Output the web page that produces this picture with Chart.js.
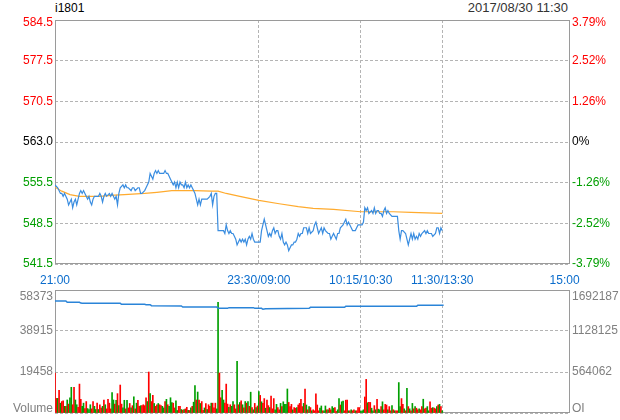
<!DOCTYPE html>
<html>
<head>
<meta charset="utf-8">
<script src="https://cdn.jsdelivr.net/npm/chart.js@4.4.1/dist/chart.umd.min.js"></script>
<style>
  body { margin: 0; background: #fff; }
  #wrap { position: relative; width: 620px; height: 420px; overflow: hidden; font-family: "Liberation Sans", Arial, sans-serif; }
  #priceBox { position: absolute; left: 0; top: 0; }
  #volBox { position: absolute; left: 0; top: 280px; }
  .head { position: absolute; top: 1px; font-size: 12px; line-height: 14px; color: #000; white-space: nowrap; }
</style>
</head>
<body>
<div id="wrap">
  <div class="head" id="code" style="left:55px;"></div>
  <div class="head" id="stamp" style="right:52px;color:#333;font-size:13px;"></div>
  <div id="priceBox"><canvas id="priceChart" width="620" height="290"></canvas></div>
  <div id="volBox"><canvas id="volChart" width="620" height="140"></canvas></div>
</div>
<script>
// 基本信息
const contractCode = 'i1801';
const stampText = '2017/08/30 11:30';
const prevClose = 563.0;
const maxPct = 3.79;
const xMax = 379;

// 时间轴（分钟，从21:00起算，去掉休市时段）
const timeTickMinutes = [0, 150, 225, 285, 375];
const timeTickLabels = ['21:00', '23:30/09:00', '10:15/10:30', '11:30/13:30', '15:00'];
const priceTickLabels = ['541.5', '548.5', '555.5', '563.0', '570.5', '577.5', '584.5'];
const pctTickLabels = ['-3.79%', '-2.52%', '-1.26%', '0%', '1.26%', '2.52%', '3.79%'];

// 分时价格
const priceMinutes = [
  0, 2, 4, 5, 6, 7, 9, 10, 12, 13, 14, 15, 16, 18, 19, 20, 21, 22, 23, 24, 25, 26, 27, 28, 29,
  31, 32, 33, 34, 35, 36, 37, 38, 40, 41, 42, 43, 44, 45, 46, 47, 48, 50, 51, 52, 53, 54, 56, 57,
  58, 59, 61, 62, 63, 64, 66, 67, 69, 70, 71, 72, 73, 74, 75, 76, 77, 78, 79, 80, 81, 82, 83, 84,
  85, 86, 87, 88, 89, 90, 91, 92, 93, 94, 95, 96, 97, 98, 99, 100, 101, 102, 103, 104, 105, 106,
  107, 108, 110, 112, 114, 115, 116, 117, 118, 119, 120, 121, 123, 124, 125, 126, 127, 128, 129,
  130, 131, 132, 133, 134, 135, 136, 137, 138, 139, 140, 141, 142, 143, 144, 145, 146, 147, 148,
  149, 150, 151, 152, 153, 154, 155, 156, 157, 158, 159, 160, 161, 162, 163, 164, 165, 166, 167,
  168, 169, 170, 171, 172, 173, 174, 175, 176, 177, 178, 179, 180, 181, 182, 183, 185, 186, 187,
  188, 190, 191, 192, 193, 194, 196, 197, 198, 199, 201, 202, 203, 204, 205, 207, 208, 209, 210,
  212, 213, 214, 215, 216, 217, 218, 219, 221, 222, 223, 224, 226, 227, 228, 229, 230, 231, 233,
  234, 235, 236, 237, 238, 239, 240, 241, 242, 243, 244, 245, 246, 248, 249, 251, 252, 253, 254,
  255, 256, 258, 259, 260, 261, 262, 263, 264, 265, 266, 267, 268, 269, 270, 272, 273, 274, 275,
  277, 278, 280, 281, 282, 283, 284, 285
];
const priceValues = [
  555.5, 555, 554, 554, 553.5, 554, 553, 552, 553, 551.5, 552.5, 553, 552, 554, 554.5, 554, 554.5, 554, 553.5, 553, 553.5, 552.5, 552, 553, 553.5,
  553.5, 553.5, 554, 553.5, 552.5, 553.5, 554, 553.5, 554, 553.5, 554, 553.5, 553, 553.5, 552, 554, 555, 555.5, 555, 555.5, 555, 555, 554.5, 555,
  555, 554.5, 555, 555, 554, 554, 554.5, 555, 556, 557.5, 557, 556.5, 557.5, 558, 557.5, 558, 557.5, 557.5, 557.5, 557.5, 558, 557.5, 557.5, 557,
  556.5, 556, 555.5, 556, 555, 556, 555, 556, 555.5, 555.5, 555, 556, 555, 555.5, 555, 555.5, 555, 554.5, 554, 553, 552, 553,
  552, 553, 553, 553, 553.5, 554, 552, 553.5, 554, 554, 547.5, 547.5, 547.5, 547.5, 547, 548.5, 547.5, 547, 547.5,
  547, 547, 546.5, 546, 545, 545.5, 546, 545.5, 546, 545.5, 546, 545, 546, 546.5, 546, 547, 546, 545.5, 545.5,
  545.5, 545.5, 545.5, 547.5, 548.5, 549.5, 548.5, 547.5, 546.5, 547, 546.5, 547.5, 548, 547, 547.5, 547.5, 546.5, 546, 547,
  545.5, 545, 545.5, 545, 544, 544.5, 545, 545, 545.5, 545.5, 546, 547, 546.5, 547, 547, 548, 548, 547, 548,
  547, 547.5, 548.5, 549, 548, 547, 548, 547, 548, 547.5, 547, 547, 546, 546.5, 547, 546, 547, 547, 548,
  548.5, 549, 549.5, 548.5, 549, 548.5, 548, 547.5, 547.5, 548, 548.5, 548.5, 548.5, 549, 551.5, 551, 551.5, 550.5, 551,
  550.5, 551.5, 550.5, 551, 551, 550.5, 550.5, 550, 551, 551.5, 550.5, 551, 550.5, 550, 550, 550, 550, 547.5, 546,
  547.5, 547.5, 547, 546, 545, 546, 547, 546, 547, 546, 546.5, 546, 547, 546.5, 547, 547.5, 547, 547.5, 547,
  547, 546.5, 547, 548, 548, 547, 548, 547.5
];

// 均价线
const avgMinutes = [0, 5, 11, 18, 33, 44, 51, 66, 75, 86, 103, 115, 120, 126, 136, 150, 165, 179, 190, 205, 225, 249, 262, 285];
const avgValues = [555.1, 554.4, 553.8, 553.5, 553.5, 553.7, 553.8, 554.0, 554.2, 554.5, 554.5, 554.4, 554.4, 554.0, 553.5, 552.8, 552.2, 551.7, 551.4, 551.2, 550.8, 550.8, 550.7, 550.5];

// 成交量与持仓量
const volMax = 58373;
const oiMax = 1692187;
const volTickLabels = ['Volume', '19458', '38915', '58373'];
const oiTickLabels = ['OI', '564062', '1128125', '1692187'];
const volumes = [
  19000, 6940, 6940, 10700, 4670, 5430, 5730, 3170, 3170, 6180, 4220, 7240,
  12200, 3920, 12200, 6180, 3920, 2710, 13720, 6480, 3170, 4670, 2110, 5430,
  2110, 1660, 3920, 1960, 5430, 3170, 1660, 4670, 1660, 3920, 2410, 3170,
  6180, 3920, 1960, 6480, 4670, 1960, 9650, 6180, 4220, 6030, 9200, 3470,
  13270, 4220, 2410, 6030, 1960, 6030, 2410, 4520, 2410, 3470, 7690, 1960,
  4670, 6030, 3170, 3470, 3470, 3920, 3470, 7240, 5430, 19450, 9200, 5430,
  8440, 4520, 3170, 3920, 4520, 3920, 3470, 3170, 2410, 5430, 6480, 3920,
  3170, 7240, 4980, 4670, 2410, 5730, 1210, 3170, 3170, 1660, 1360, 1660,
  1960, 2710, 1210, 1210, 2410, 3170, 5130, 12970, 6180, 9950, 6180, 4520,
  5430, 1210, 2410, 4520, 1660, 3920, 3170, 4670, 4670, 2410, 4670, 1960,
  52500, 19000, 7240, 10700, 6180, 4670, 13720, 4220, 2710, 3920, 3170, 5430,
  3920, 1960, 24580, 3920, 4980, 5730, 3920, 2410, 5430, 4670, 5430, 3170,
  9880, 2580, 1520, 4560, 2580, 3340, 10180, 8360, 5320, 4560, 6840, 2280,
  6080, 3500, 2580, 8060, 1980, 6840, 1520, 4100, 2580, 1520, 4560, 3040,
  5320, 4100, 4100, 11400, 5020, 3040, 4100, 1520, 2580, 2280, 2580, 3800,
  4560, 6540, 3040, 4560, 11400, 3800, 1520, 3040, 2580, 1060, 1520, 1060,
  9120, 3800, 1060, 2280, 3340, 1060, 1060, 3340, 1520, 1520, 2280, 1520,
  3040, 2280, 2580, 760, 1520, 6840, 3800, 5320, 5620, 1060, 6080, 6080,
  1060, 1060, 1520, 1060, 1520, 1060, 1060, 2580, 2580, 760, 1060, 1520,
  7600, 15960, 4860, 5020, 5020, 2280, 1060, 3500, 1520, 6540, 1820, 1520,
  3040, 5320, 1520, 4100, 3800, 1520, 3040, 1060, 3500, 1520, 1060, 1060,
  1060, 14440, 3040, 6840, 4100, 1980, 1060, 11700, 3040, 1980, 1060, 4560,
  1980, 3040, 2280, 1520, 1980, 1520, 3040, 6540, 1980, 2280, 3040, 1060,
  5320, 2280, 2580, 2280, 1980, 3040, 3800, 4100, 3040, 1060
];
const volSides = [
  'r','r','g','r','g','r','r','g','r','g','r','g',
  'g','r','r','g','g','r','r','r','g','g','r','r',
  'g','g','g','r','r','g','g','r','g','r','r','g',
  'r','g','r','r','r','r','g','g','r','g','r','g',
  'r','r','g','g','r','g','r','r','g','r','g','r',
  'g','r','r','g','r','r','r','r','g','r','g','r',
  'r','g','r','r','g','r','r','g','g','r','g','r',
  'g','g','g','r','r','g','g','r','r','g','r','g',
  'r','r','g','r','g','r','g','g','r','g','r','g',
  'r','r','g','r','g','r','r','g','r','r','r','g',
  'g','r','r','g','g','r','r','r','g','r','g','g',
  'r','r','g','r','g','r','g','r','g','r','g','r',
  'g','r','g','r','g','r','g','r','g','r','r','g',
  'r','r','g','r','r','r','g','g','r','r','g','r',
  'g','g','g','g','r','r','r','g','r','r','g','r',
  'r','r','r','g','r','g','r','g','r','g','r','r',
  'r','r','r','g','g','r','g','g','r','g','r','r',
  'g','g','r','r','g','g','r','g','g','r','r','r',
  'g','r','g','r','r','g','r','r','r','g','g','g',
  'r','r','g','r','r','g','g','r','g','r','g','g',
  'r','g','r','r','r','g','r','r','g','r','g','r',
  'r','g','g','r','r','g','r','g','r','g','r','g',
  'r','g','r','r','g','r','r','g','r','r','g','g',
  'r','r','g','r','r','g','r','g','r','g'
];
const oiMinutes = [0, 8, 9, 18, 19, 20, 48, 49, 66, 67, 70, 71, 93, 94, 119, 120, 127, 128, 146, 147, 152, 153, 155, 187, 188, 213, 214, 266, 267, 286];
const oiValues = [1541000, 1541000, 1523000, 1523000, 1512000, 1509000, 1509000, 1495000, 1495000, 1490000, 1490000, 1476000, 1472000, 1458000, 1458000, 1440000, 1440000, 1449000, 1449000, 1440000, 1440000, 1427000, 1435000, 1440000, 1454000, 1454000, 1467000, 1467000, 1481000, 1484000];

// 颜色
const upColor = '#ff0000';
const downColor = '#009f00';
const gridColor = '#b4b4b4';
const fontFamily = '"Liberation Sans", Arial, sans-serif';

document.getElementById('code').textContent = contractCode;
document.getElementById('stamp').textContent = stampText;

// 画外框
const framePlugin = {
    id: 'frame',
    beforeDatasetsDraw(chart) {
        const { ctx, chartArea: a } = chart;
        ctx.save();
        ctx.strokeStyle = '#9a9a9a';
        ctx.lineWidth = 1;
        ctx.strokeRect(Math.round(a.left) + 0.5, Math.round(a.top) + 0.5,
            Math.round(a.right - a.left) - 1, Math.round(a.bottom - a.top) - 1);
        ctx.restore();
    }
};

function timeAxis(showLabels) {
    return {
        type: 'linear',
        min: 0,
        max: xMax,
        offset: false,
        afterBuildTicks: (s) => { s.ticks = timeTickMinutes.map(v => ({ value: v })); },
        afterFit: (s) => { s.height = showLabels ? 26 : 0; },
        grid: {
            offset: false,
            drawTicks: false,
            color: (c) => (c.tick && (c.tick.value === 0 || c.tick.value === 375)) ? 'rgba(0,0,0,0)' : gridColor
        },
        border: { display: false, dash: [3, 2] },
        ticks: {
            display: showLabels,
            autoSkip: false,
            maxRotation: 0,
            padding: 9,
            color: '#0a6ccc',
            font: { family: fontFamily, size: 12 },
            callback: (v, i) => timeTickLabels[i]
        }
    };
}

// 左右纵轴宽度固定，且不让标签撑开绘图区
function fixAxis(s) {
    s.width = s.position === 'left' ? 55 : 50;
    s.paddingTop = 0;
    s.paddingBottom = 0;
}

const priceStep = prevClose * maxPct / 100 / 3;
const priceMin = prevClose - priceStep * 3;
const priceMax = prevClose + priceStep * 3;

function priceAxis(position, labels) {
    return {
        type: 'linear',
        position,
        min: priceMin,
        max: priceMax,
        afterBuildTicks: (s) => { s.ticks = labels.map((_, i) => ({ value: priceMin + priceStep * i })); },
        afterFit: fixAxis,
        grid: { display: position === 'left', drawTicks: false, color: gridColor },
        border: { display: false, dash: [3, 2] },
        ticks: {
            padding: 2,
            font: (c) => ({ family: fontFamily, size: 12, lineHeight: c.index === 6 ? 0.5 : 1.2 }),
            color: (c) => c.index < 3 ? downColor : (c.index === 3 ? '#000' : upColor),
            callback: (v, i) => i === 6 ? ['', labels[i]] : labels[i]
        }
    };
}

new Chart(document.getElementById('priceChart'), {
    type: 'line',
    data: {
        datasets: [{
            label: 'price',
            data: priceMinutes.map((m, i) => ({ x: m, y: priceValues[i] })),
            borderColor: '#3a8de0',
            borderWidth: 1.2,
            pointRadius: 0,
            tension: 0,
            order: 1
        }, {
            label: 'avg',
            data: avgMinutes.map((m, i) => ({ x: m, y: avgValues[i] })),
            borderColor: '#ffab2e',
            borderWidth: 1.2,
            pointRadius: 0,
            tension: 0,
            order: 2
        }]
    },
    options: {
        responsive: false,
        animation: false,
        layout: { padding: { top: 20, left: 0, right: 0, bottom: 0 } },
        plugins: { legend: { display: false }, tooltip: { enabled: false } },
        scales: {
            x: timeAxis(true),
            y: priceAxis('left', priceTickLabels),
            yPct: priceAxis('right', pctTickLabels)
        }
    },
    plugins: [framePlugin]
});

function volAxis(position, max, labels) {
    return {
        type: 'linear',
        position,
        min: 0,
        max,
        afterBuildTicks: (s) => { s.ticks = labels.map((_, i) => ({ value: max * i / 3 })); },
        afterFit: fixAxis,
        grid: { display: position === 'left', drawTicks: false, color: gridColor },
        border: { display: false, dash: [3, 2] },
        ticks: {
            padding: 2,
            color: '#808080',
            font: (c) => ({ family: fontFamily, size: 12, lineHeight: c.index === 0 ? 0.67 : (c.index === 3 ? 1.08 : 1.2) }),
            callback: (v, i) => i === 0 ? [labels[i], ''] : (i === 3 ? ['', labels[i]] : labels[i])
        }
    };
}

new Chart(document.getElementById('volChart'), {
    type: 'bar',
    data: {
        datasets: [{
            type: 'line',
            label: 'OI',
            yAxisID: 'yOi',
            data: oiMinutes.map((m, i) => ({ x: m, y: oiValues[i] })),
            borderColor: '#2a84d8',
            borderWidth: 1.5,
            pointRadius: 0,
            tension: 0,
            order: 1
        }, {
            type: 'bar',
            label: 'Volume',
            yAxisID: 'yVol',
            data: volumes.map((v, i) => ({ x: i, y: v })),
            backgroundColor: volSides.map(s => s === 'r' ? upColor : downColor),
            barThickness: 1,
            order: 2
        }]
    },
    options: {
        responsive: false,
        animation: false,
        layout: { padding: { top: 10, left: 0, right: 0, bottom: 7 } },
        plugins: { legend: { display: false }, tooltip: { enabled: false } },
        scales: {
            x: timeAxis(false),
            yVol: volAxis('left', volMax, volTickLabels),
            yOi: volAxis('right', oiMax, oiTickLabels)
        }
    },
    plugins: [framePlugin]
});
</script>
</body>
</html>
